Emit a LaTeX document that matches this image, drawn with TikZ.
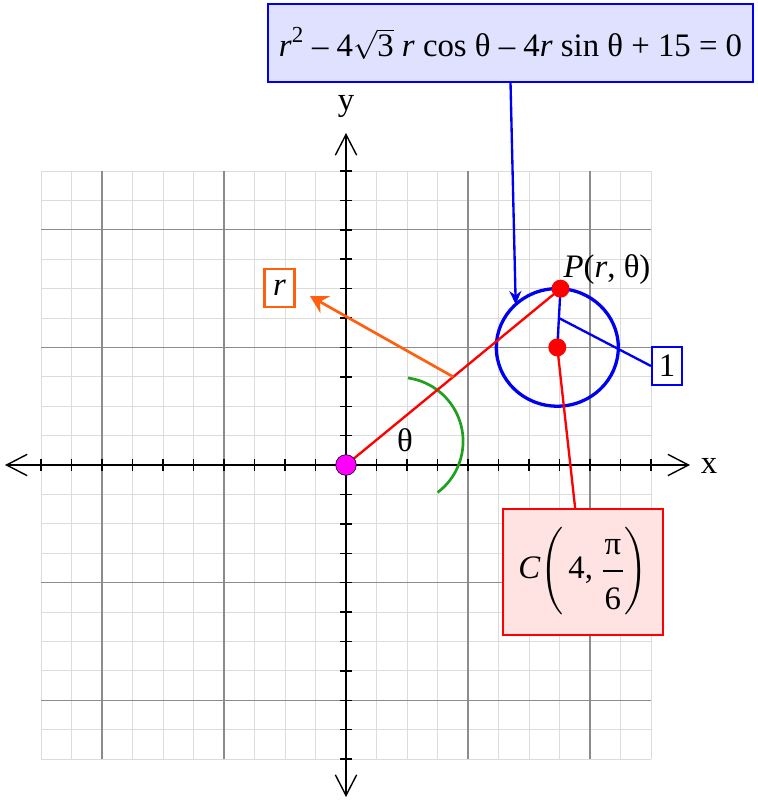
\documentclass[tikz,border=0pt]{standalone}
\usepackage{amsmath}
\usepackage{fontspec}
\setmainfont{Liberation Serif}
\usepackage{xcolor}
\usepackage{tikz}
\usetikzlibrary{arrows.meta,calc}

\definecolor{gridminor}{HTML}{DCDCDC}
\definecolor{gridmajor}{HTML}{8C8C8C}
\definecolor{eqfill}{HTML}{E0E0FF}
\definecolor{cfill}{HTML}{FFE2E2}
\definecolor{arcgreen}{HTML}{1FA01F}
\definecolor{rorange}{HTML}{FF6010}
\definecolor{dotmagenta}{HTML}{FF00FF}
\definecolor{lineblue}{HTML}{0000F0}

\begin{document}
\begin{tikzpicture}[x=1.83cm, y=1.764cm,
        every node/.style={font=\fontsize{28}{32}\selectfont},
        axisline/.style={line width=1.2pt,
            {Straight Barb[length=0.62cm,width=0.64cm]}-{Straight Barb[length=0.62cm,width=0.64cm]}},
        tickline/.style={line width=1.2pt},
        eqbox/.style={draw=lineblue, fill=eqfill, line width=2pt, minimum width=14.55cm, minimum height=2.34cm, inner sep=0pt},
        redbox/.style={draw=red, fill=cfill, line width=2pt, minimum width=4.8cm, minimum height=3.78cm, inner sep=0pt},
        smallbox/.style={fill=white, line width=1.8pt, minimum width=0.9cm, minimum height=1.16cm, inner sep=0pt}]
    \useasboundingbox (-5.672,-5.697) rectangle (6.738,7.908);
    \fill[white] (-5.672,-5.697) rectangle (6.738,7.908);

    \draw[gridminor, line width=0.6pt] (-5,-5) grid[step=0.5] (5,5);
    \foreach \v in {-4,-2,2,4} {
        \draw[gridmajor, line width=0.9pt] (\v,-5) -- (\v,5);
        \draw[gridmajor, line width=0.9pt] (-5,\v) -- (5,\v);
    }

    \draw[axisline] (-5.59,0) -- (5.64,0);
    \draw[axisline] (0,-5.646) -- (0,5.646);
    \foreach \t in {-5,-4.5,...,5} {
        \draw[tickline] (\t,-0.1) -- (\t,0.1);
        \draw[tickline] (-0.1,\t) -- (0.1,\t);
    }
    \node (xlabel) at (5.95,-0.017) {x};
    \node (ylabel) at (0,6.105) {y};

    \coordinate (O) at (0,0);
    \coordinate (C) at (3.464,2);
    \coordinate (P) at ($(C)+(87:1)$);
    \coordinate (M) at ($(C)!0.5!(P)$);
    \coordinate (tip) at ($(C)+(133:1)$);

    \node (eq) [eqbox] at (2.697,7.177)
        {\textit{r}\raisebox{0.12cm}{\textsuperscript{2}} – 4$\sqrt{\text{3}}$ \textit{r} cos θ – 4\textit{r} sin θ + 15 = 0};
    \node (cbox) [redbox] at (3.885,-1.820)
        {\textit{C}$\left(\rule[-1.15cm]{0pt}{2.45cm}\,\text{4, }\genfrac{}{}{2.4pt}{0}{\makebox[0.62cm]{π\rule[-0.2cm]{0pt}{0pt}}}{\rule{0pt}{0.85cm}\text{6}}\right)$};
    \node (one) [smallbox, draw=lineblue] at (5.262,1.684) {1};
    \node (rbox) [smallbox, draw=rorange] at (-1.090,3.010) {\textit{r}};
    \node (plabel) at (4.279,3.316) {\textit{P}(\textit{r}, θ)};
    \node (theta) at (0.967,0.425) {θ};

    \draw[arcgreen, line width=2.3pt] (1.016,1.480) arc[start angle=82, end angle=-53, radius=1.92cm];
    \draw[lineblue, line width=2.8pt] (C) circle[radius=1];
    \draw[red, line width=2pt] (O) -- (P);
    \draw[red, line width=2pt] (cbox.97) -- (C);
    \draw[lineblue, line width=2pt] (C) -- (P);
    \draw[lineblue, line width=2pt] (M) -- (one.west);
    \draw[lineblue, line width=2pt, -{Stealth[length=0.4cm,width=0.36cm]}] (eq.south) -- (tip);
    \draw[rorange, line width=2.3pt, -{Stealth[length=0.52cm,width=0.58cm,inset=0.18cm]}, shorten >=0.5cm]
        ($(O)!0.5!(P)$) -- (rbox.east);

    \filldraw[fill=dotmagenta, draw=black, line width=0.5pt] (O) circle[radius=0.31cm];
    \fill[red] (P) circle[radius=0.27cm];
    \fill[red] (C) circle[radius=0.27cm];
\end{tikzpicture}
\end{document}
